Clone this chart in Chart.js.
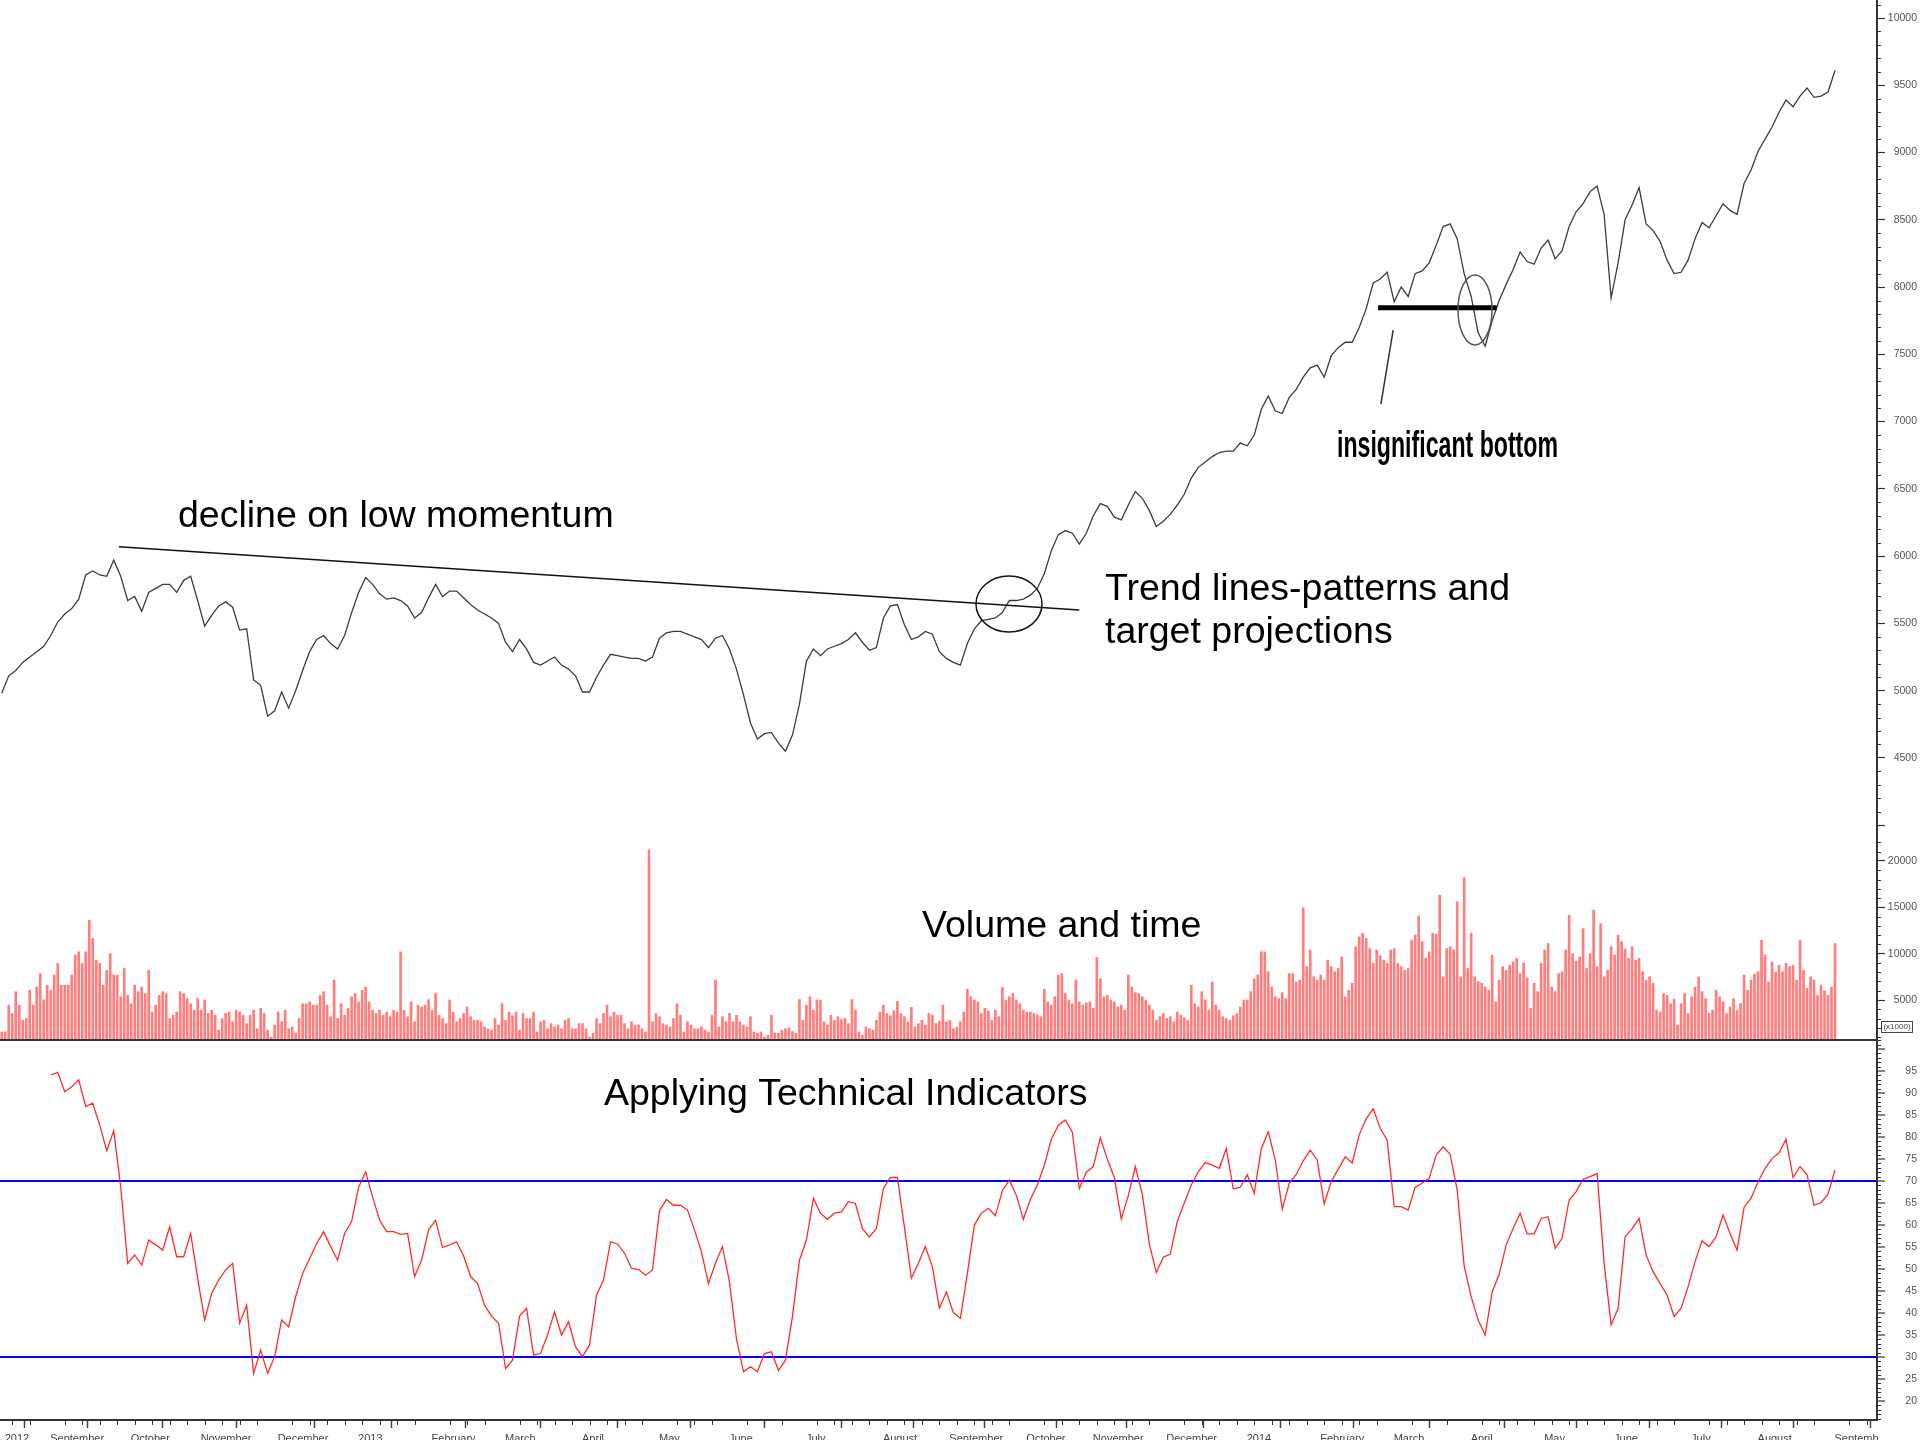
<!DOCTYPE html>
<html>
<head>
<meta charset="utf-8">
<script src="https://cdn.jsdelivr.net/npm/chart.js@4.4.1/dist/chart.umd.min.js"></script>
<style>
  html, body { margin: 0; padding: 0; width: 1920px; height: 1440px; overflow: hidden; background: #ffffff; }
  canvas { display: block; }
</style>
</head>
<body>
<canvas id="c" width="1920" height="1460"></canvas>
<script>
// ---------------- DATA (x unit = trading day index) ----------------
const MONTH_TICK_DAYS = [0, 13, 36, 56, 78, 101, 122, 143, 165, 187, 207, 229, 251, 270, 292, 311, 332, 355, 376, 397, 419, 440, 460, 482, 501, 523];
const MONTH_LABELS = ['2012', 'September', 'October', 'November', 'December', '2013', 'February', 'March', 'April', 'May', 'June', 'July', 'August', 'September', 'October', 'November', 'December', '2014', 'February', 'March', 'April', 'May', 'June', 'July', 'August', 'Septemb'];

// closing price, one value every 2 trading days starting at day 0
const PRICE_STEP = 2;
const priceClose = [
  4980, 5110, 5150, 5210, 5250, 5290, 5330, 5410, 5510, 5570,
  5610, 5680, 5860, 5890, 5860, 5850, 5970, 5850, 5670, 5700,
  5590, 5730, 5760, 5790, 5790, 5730, 5820, 5850, 5670, 5480,
  5560, 5630, 5660, 5620, 5450, 5460, 5080, 5040, 4810, 4850,
  4990, 4870, 5000, 5150, 5290, 5380, 5410, 5350, 5310, 5410,
  5580, 5730, 5840, 5790, 5720, 5680, 5690, 5670, 5630, 5540,
  5580, 5690, 5790, 5700, 5740, 5740, 5690, 5640, 5600, 5570,
  5540, 5500, 5360, 5290, 5380, 5310, 5210, 5190, 5220, 5250,
  5190, 5160, 5110, 4990, 4990, 5100, 5190, 5270, 5260, 5250,
  5240, 5240, 5220, 5250, 5390, 5430, 5440, 5440, 5420, 5400,
  5380, 5320, 5390, 5410, 5310, 5160, 4970, 4760, 4640, 4680,
  4690, 4610, 4550, 4670, 4900, 5220, 5310, 5260, 5310, 5330,
  5350, 5380, 5430, 5360, 5300, 5320, 5540, 5630, 5640, 5490,
  5380, 5400, 5440, 5420, 5290, 5240, 5210, 5190, 5350, 5460,
  5520, 5530, 5540, 5580, 5670, 5670, 5680, 5710, 5760, 5870,
  6040, 6160, 6190, 6170, 6090, 6170, 6300, 6390, 6370, 6290,
  6270, 6380, 6480, 6430, 6340, 6220, 6260, 6310, 6380, 6460,
  6580, 6660, 6700, 6740, 6770, 6780, 6780, 6840, 6820, 6900,
  7090, 7190, 7080, 7060, 7180, 7240, 7330, 7400, 7420, 7330,
  7490, 7550, 7590, 7590, 7700, 7840, 8030, 8060, 8110, 7890,
  8000, 7930, 8100, 8120, 8180, 8310, 8450, 8470, 8360, 8100,
  7930, 7660, 7560, 7750, 7900, 8020, 8130, 8260, 8190, 8170,
  8290, 8350, 8210, 8270, 8450, 8560, 8620, 8710, 8750, 8540,
  7920, 8180, 8500, 8610, 8740, 8470, 8420, 8340, 8200, 8100,
  8110, 8200, 8360, 8480, 8440, 8530, 8620, 8570, 8540, 8770,
  8870, 9010, 9100, 9190, 9300, 9390, 9340, 9420, 9480, 9410,
  9420, 9450, 9610
];

// daily volume (x1000), starting at day 0
const volume = [
  1550, 1550, 4450, 3550, 5900, 4450, 2800, 3000, 6050, 4450,
  6400, 7850, 5000, 6600, 6050, 7700, 8950, 6600, 6600, 6600,
  7700, 9850, 10200, 8950, 10200, 13600, 11650, 9300, 8950, 6600,
  8200, 10000, 7700, 7700, 5350, 8400, 5500, 4600, 6600, 5900,
  6400, 5700, 8200, 3700, 4450, 5500, 5900, 5700, 3000, 3350,
  3700, 5900, 5700, 5150, 4600, 3900, 5150, 3900, 5000, 3550, 3900,
  3350, 1750, 3000, 3550, 3700, 2650, 3900, 3700, 3350, 2450,
  3350, 3900, 1900, 4100, 3550, 1750, 1000, 2300, 3700, 2650,
  3900, 1900, 2100, 1450, 3000, 4600, 4600, 4800, 4450, 4450, 5500,
  5900, 4450, 3200, 7150, 3000, 4600, 3350, 4100, 5350, 5700,
  4800, 6050, 6400, 4800, 3900, 3550, 3900, 3350, 3700, 3200,
  3900, 3700, 10200, 3900, 3200, 4800, 2650, 4450, 4250, 4450,
  5050, 3900, 5700, 3350, 3000, 2450, 5000, 3700, 2650, 3000,
  3550, 4250, 3200, 2800, 2800, 2650, 2100, 1900, 1750, 3000,
  2300, 4600, 2800, 3700, 3300, 3700, 1750, 3550, 3000, 3000, 3700,
  1550, 2650, 2800, 1900, 2450, 2100, 2300, 1900, 2800, 3000,
  1900, 1900, 2450, 2450, 1900, 1000, 1400, 3000, 2450, 3550,
  4450, 3200, 3700, 3350, 3350, 2450, 1900, 2650, 2300, 2300,
  1900, 1550, 21200, 2650, 3550, 3200, 2450, 2300, 2100, 3000,
  4600, 3350, 1550, 2650, 2300, 1900,
  1900, 2100, 1750, 1550, 3350, 7150, 2100, 3200, 2650, 3550, 2650, 3350, 2650, 2300,
  2100, 3200, 1550, 1400, 1550, 1000, 1200, 3350, 1450, 1400, 1750, 1900, 2000, 1600,
  1400, 5050, 2800, 4450, 5350, 3900, 5000, 5000, 2650, 2300, 3350, 2800, 3200, 2900,
  3000, 2450, 5050, 3900, 1550, 1200, 2100, 1900, 1750, 2800, 3700, 4450, 3550, 3300,
  3850, 4850, 3550, 3200, 2650, 4200, 2100, 2450, 2800, 2300, 3550, 3350, 2450, 2700,
  4450, 2650, 2800, 1900, 2100, 2650, 3700, 6150, 5350, 5000, 4800, 3550, 4100, 3800,
  2800, 3900, 3200, 6350, 5000, 5350, 5700, 5000, 4600, 3900, 3700, 3700, 3550, 3400,
  3200, 6150, 4800, 4450, 5350, 7700, 7850, 5700, 5000, 4600, 7150, 4800, 4450, 4700,
  4800, 4100, 9600, 7300, 5350, 5500, 5000, 4800, 4250, 4450, 3900, 7700, 6400, 5800,
  5700, 5350, 5000, 4450, 3900, 2800, 3200, 3550, 3000, 3200, 2650, 3700, 3350, 3100,
  2800, 6600, 4600, 4250, 5900, 5000, 3900, 6950, 4450, 3900, 3200, 3000, 2800, 3300,
  3550, 4250, 5000, 5000, 5900, 7300, 7700, 10200, 10200, 8050, 6400, 5350, 5150, 5800,
  5150, 7850, 7850, 6950, 7150, 14950, 8600, 10400, 7500, 7150, 7700, 7150, 9300, 8600,
  8050, 8400, 9650, 5350, 6050, 6800, 10750, 11800, 12200, 11650, 10550, 8950, 10400, 9800,
  9300, 8950, 10400, 10550, 8950, 8600, 8200, 8400, 11450, 12000, 14050, 11300, 9500, 10200,
  12200, 12100, 16300, 7500, 10550, 10750, 10400, 15600, 7500, 18200, 8400, 12200, 7500, 7000,
  6800, 6400, 6050, 9850, 4800, 7150, 8600, 8200, 8750, 9100, 9500, 7850, 9000, 7400,
  4100, 6800, 5900, 8950, 10400, 11100, 6400, 5900, 7850, 8050, 10400, 14150, 10000, 9200,
  9650, 12700, 8400, 10000, 14700, 8600, 13250, 7500, 8200, 10750, 9850, 12000, 11300, 10500,
  9500, 10750, 9300, 9500, 8050, 7150, 7500, 6800, 3900, 3700, 5700, 5500, 4600, 5100,
  2300, 4600, 5700, 3550, 5350, 6400, 7500, 5900, 5150, 3550, 3900, 6050, 5350, 4800,
  3550, 4250, 5150, 3900, 4600, 7700, 6050, 7150, 7800, 8050, 11450, 9850, 6950, 9100, 8000,
  8750, 8050, 8950, 8600, 8750, 7150, 11450, 8200, 6250, 7500, 7150, 5500, 6600, 6000,
  5500, 6400, 11100
];

// momentum oscillator, one value every 2 days starting at day 14
const RSI_START = 14;
const RSI_STEP = 2;
const rsi14 = [
  94.1, 94.7, 90.3, 91.4, 93.0, 86.9, 87.7, 82.7, 76.9, 81.4,
  68.7, 51.3, 53.2, 50.9, 56.6, 55.5, 54.3, 59.6, 52.8, 52.8,
  58.1, 47.9, 38.4, 44.5, 47.5, 49.8, 51.3, 37.7, 41.8, 26.3,
  31.6, 26.3, 30.1, 38.4, 36.9, 43.7, 49.0, 52.4, 55.8, 58.5,
  55.1, 52.0, 58.1, 60.8, 68.6, 72.1, 66.4, 61.1, 58.5, 58.5,
  57.9, 58.1, 48.3, 52.0, 58.9, 61.1, 54.9, 55.5, 56.2, 53.0,
  48.3, 46.7, 41.8, 39.3, 37.7, 27.4, 29.3, 39.3, 41.1, 30.5,
  30.8, 35.0, 40.3, 35.0, 38.0, 32.3, 30.1, 32.7, 44.1, 47.5,
  56.2, 55.7, 53.6, 50.2, 49.9, 48.6, 49.8, 63.3, 65.8, 64.5,
  64.5, 63.4, 58.9, 53.9, 46.7, 51.3, 55.1, 47.1, 34.2, 26.7,
  27.8, 26.7, 30.8, 31.2, 27.0, 29.3, 39.2, 52.0, 56.6, 66.1,
  62.7, 61.3, 62.7, 63.0, 65.3, 64.9, 59.2, 57.3, 59.2, 68.3,
  70.8, 70.8, 59.6, 47.9, 51.3, 55.1, 50.5,
  41.1, 44.8, 40.1, 38.8, 49.0, 60.0, 62.7, 63.8, 62.1, 67.8,
  70.2, 66.8, 61.3, 65.8, 69.1, 73.6, 79.5, 82.7, 83.9, 81.1,
  68.3, 72.0, 73.3, 79.8, 75.0, 70.8, 61.4, 66.7, 73.3, 67.0,
  55.8, 49.2, 52.7, 53.4, 60.8, 65.0, 69.1, 72.1, 74.2, 73.6,
  72.9, 77.4, 68.2, 68.6, 71.4, 67.2, 77.3, 81.2, 74.8, 63.6,
  69.5, 71.5, 74.6, 77.0, 74.8, 64.8, 69.9, 72.7, 75.5, 74.1,
  80.5, 84.2, 86.4, 82.0, 79.3, 64.2, 64.2, 63.4, 68.6, 69.5,
  70.6, 75.9, 77.8, 76.1, 68.0, 50.7, 43.7, 38.4, 35.0, 44.8,
  48.8, 55.5, 59.2, 62.7, 58.0, 58.0, 61.5, 61.9, 54.7, 57.0,
  65.7, 67.6, 70.4, 71.0, 71.7, 51.3, 37.3, 41.1, 57.3, 59.2,
  61.5, 53.2, 49.4, 46.7, 44.1, 39.2, 41.1, 46.0, 51.7, 56.4,
  55.1, 57.3, 62.3, 58.1, 54.3, 64.0, 66.1, 69.8, 72.9, 75.1,
  76.4, 79.5, 70.8, 73.3, 71.4, 64.5, 65.1, 67.0, 72.5
];

// drawn studies (day, price)
const trendLine = [[33.5, 6070], [308, 5600]];
const supportLine = [[393.4, 7847], [427.3, 7847]];
const pointerLine = [[397.7, 7680], [394.2, 7130]];
const breakoutCircle = { day: 287.9, price: 5644, rx: 33, ry: 28 };
const bottomEllipse = { day: 421.1, price: 7830, rx: 17, ry: 35 };

// axis ticks
const PRICE_TICKS = [4000, 4500, 5000, 5500, 6000, 6500, 7000, 7500, 8000, 8500, 9000, 9500, 10000];
const VOLUME_TICKS = [5000, 10000, 15000, 20000];
const RSI_TICKS = [20, 25, 30, 35, 40, 45, 50, 55, 60, 65, 70, 75, 80, 85, 90, 95, 100];
const RSI_BANDS = [70, 30];

// ---------------- CHART ----------------
const FONT = '"Liberation Sans", Arial, sans-serif';
const toXY = (arr) => arr.map(p => ({ x: p[0], y: p[1] }));

const priceData = priceClose.map((v, i) => ({ x: i * PRICE_STEP, y: v }));
const volData = volume.map((v, i) => ({ x: i, y: v }));
const rsiData = rsi14.map((v, i) => ({ x: RSI_START + i * RSI_STEP, y: v }));

function zeroPad(s) { s.paddingTop = 0; s.paddingBottom = 0; s.paddingLeft = 0; s.paddingRight = 0; }

const annotations = {
  id: 'annotations',
  afterDatasetsDraw(chart) {
    const ctx = chart.ctx;
    const xs = chart.scales.x, yp = chart.scales.yPrice, yv = chart.scales.yVol, yr = chart.scales.yRsi;
    const area = chart.chartArea;
    ctx.save();

    // separator between volume and indicator panels
    ctx.strokeStyle = '#333';
    ctx.lineWidth = 2;
    ctx.beginPath();
    ctx.moveTo(area.left, Math.round(yr.top));
    ctx.lineTo(area.right, Math.round(yr.top));
    ctx.stroke();

    // ellipses
    ctx.lineWidth = 1.5;
    ctx.strokeStyle = '#111';
    ctx.beginPath();
    ctx.ellipse(xs.getPixelForValue(breakoutCircle.day), yp.getPixelForValue(breakoutCircle.price), breakoutCircle.rx, breakoutCircle.ry, 0, 0, Math.PI * 2);
    ctx.stroke();
    ctx.strokeStyle = '#555';
    ctx.beginPath();
    ctx.ellipse(xs.getPixelForValue(bottomEllipse.day), yp.getPixelForValue(bottomEllipse.price), bottomEllipse.rx, bottomEllipse.ry, 0, 0, Math.PI * 2);
    ctx.stroke();

    // minor ticks on right axes
    ctx.strokeStyle = '#333';
    ctx.lineWidth = 1;
    ctx.beginPath();
    const minor = (scale, step, major, len) => {
      for (let v = Math.ceil(scale.min / step) * step; v <= scale.max; v += step) {
        const r = v / major;
        if (Math.abs(r - Math.round(r)) < 1e-6) continue;
        const y = Math.round(scale.getPixelForValue(v)) + 0.5;
        ctx.moveTo(scale.left, y);
        ctx.lineTo(scale.left + len, y);
      }
    };
    minor(yp, 100, 500, 4);
    minor(yv, 1000, 5000, 4);
    minor(yr, 1, 5, 4);
    // weekly minor ticks on time axis
    for (let d = 3; d < xs.max; d += 5) {
      if (MONTH_TICK_DAYS.some(m => Math.abs(m - d) < 1.5)) continue;
      const x = Math.round(xs.getPixelForValue(d)) + 0.5;
      ctx.moveTo(x, xs.top);
      ctx.lineTo(x, xs.top + 5);
    }
    ctx.stroke();

    // volume unit box
    ctx.lineWidth = 1;
    ctx.strokeStyle = '#444';
    ctx.strokeRect(area.right + 4.5, yv.bottom - 18.5, 31, 11);
    ctx.fillStyle = '#444';
    ctx.font = '8px ' + FONT;
    ctx.textAlign = 'center';
    ctx.textBaseline = 'middle';
    ctx.fillText('(x1000)', area.right + 20, yv.bottom - 13);

    // texts
    ctx.fillStyle = '#000';
    ctx.textAlign = 'left';
    ctx.textBaseline = 'alphabetic';
    ctx.font = '37.5px ' + FONT;
    ctx.fillText('decline on low momentum', 178, 527);
    ctx.fillText('Trend lines-patterns and', 1105, 600);
    ctx.fillText('target projections', 1105, 643);
    ctx.fillText('Volume and time', 922, 937);
    ctx.fillText('Applying Technical Indicators', 604, 1105);

    ctx.font = 'bold 37px ' + FONT;
    const t = 'insignificant bottom';
    const w = ctx.measureText(t).width;
    ctx.translate(1337, 457);
    ctx.scale(221 / w, 1);
    ctx.fillText(t, 0, 0);
    ctx.restore();
  }
};

const yTickFont = { family: FONT, size: 10.5 };

new Chart(document.getElementById('c'), {
  type: 'bar',
  data: {
    datasets: [
      { type: 'line', label: 'Price', data: priceData, yAxisID: 'yPrice', borderColor: '#3c3c3c', borderWidth: 1.3, pointRadius: 0, tension: 0, order: 2 },
      { type: 'line', label: 'Trend line', data: toXY(trendLine), yAxisID: 'yPrice', borderColor: '#111', borderWidth: 1.5, pointRadius: 0, order: 1 },
      { type: 'line', label: 'Support', data: toXY(supportLine), yAxisID: 'yPrice', borderColor: '#000', borderWidth: 5, borderCapStyle: 'butt', pointRadius: 0, order: 1 },
      { type: 'line', label: 'Pointer', data: toXY(pointerLine), yAxisID: 'yPrice', borderColor: '#333', borderWidth: 1.5, pointRadius: 0, order: 1 },
      { type: 'bar', label: 'Volume', data: volData, yAxisID: 'yVol', backgroundColor: 'rgba(255,70,70,0.7)', borderWidth: 0, barThickness: 2, order: 3 },
      { type: 'line', label: 'Indicator', data: rsiData, yAxisID: 'yRsi', borderColor: 'rgba(255,20,20,0.9)', borderWidth: 1.3, pointRadius: 0, tension: 0, order: 2 }
    ]
  },
  options: {
    responsive: false,
    animation: false,
    devicePixelRatio: 1,
    layout: { padding: { left: 0, right: 3, top: 0, bottom: 0 } },
    plugins: { legend: { display: false }, tooltip: { enabled: false } },
    scales: {
      x: {
        type: 'linear', position: 'bottom', min: -0.5, max: 536, offset: false,
        afterBuildTicks: (s) => { s.ticks = MONTH_TICK_DAYS.map(v => ({ value: v })); },
        afterFit: (s) => { s.height = 40; zeroPad(s); },
        grid: { drawOnChartArea: false, drawTicks: true, tickLength: 8, tickColor: '#444', tickWidth: 1.5 },
        border: { display: true, color: '#333', width: 2 },
        ticks: {
          autoSkip: false, maxRotation: 0, minRotation: 0, align: 'start', labelOffset: 3, padding: 4,
          color: '#444', font: { family: FONT, size: 11 },
          callback: (v) => { const i = MONTH_TICK_DAYS.indexOf(v); return i >= 0 ? MONTH_LABELS[i] : ''; }
        }
      },
      yPrice: {
        type: 'linear', position: 'right', stack: 'panels', stackWeight: 835,
        min: 3927, max: 10134,
        afterBuildTicks: (s) => { s.ticks = PRICE_TICKS.map(v => ({ value: v })); },
        afterFit: (s) => { s.width = 40; zeroPad(s); },
        grid: { drawOnChartArea: false, tickLength: 8, tickColor: '#333', tickWidth: 1.2 },
        border: { display: true, color: '#333', width: 2 },
        ticks: { autoSkip: false, crossAlign: 'far', color: '#555', font: yTickFont, callback: (v) => v >= 4500 ? String(v) : '' }
      },
      yVol: {
        type: 'linear', position: 'right', stack: 'panels', stackWeight: 205,
        min: 684, max: 22804,
        afterBuildTicks: (s) => { s.ticks = VOLUME_TICKS.map(v => ({ value: v })); },
        afterFit: (s) => { s.width = 40; zeroPad(s); },
        grid: { drawOnChartArea: false, tickLength: 8, tickColor: '#333', tickWidth: 1.2 },
        border: { display: true, color: '#333', width: 2 },
        ticks: { autoSkip: false, crossAlign: 'far', color: '#555', font: yTickFont, callback: (v) => String(v) }
      },
      yRsi: {
        type: 'linear', position: 'right', stack: 'panels', stackWeight: 380,
        min: 15.7, max: 102.05,
        afterBuildTicks: (s) => { s.ticks = RSI_TICKS.map(v => ({ value: v })); },
        afterFit: (s) => { s.width = 40; zeroPad(s); },
        grid: {
          drawOnChartArea: true, tickLength: 8, tickColor: '#333', tickWidth: 1.2,
          color: (c) => (c.tick && RSI_BANDS.includes(c.tick.value)) ? '#0000ff' : 'rgba(0,0,0,0)',
          lineWidth: 2
        },
        border: { display: true, color: '#333', width: 2 },
        ticks: { autoSkip: false, crossAlign: 'far', color: '#555', font: yTickFont, callback: (v) => v <= 95 ? String(v) : '' }
      }
    }
  },
  plugins: [annotations]
});
</script>
</body>
</html>
